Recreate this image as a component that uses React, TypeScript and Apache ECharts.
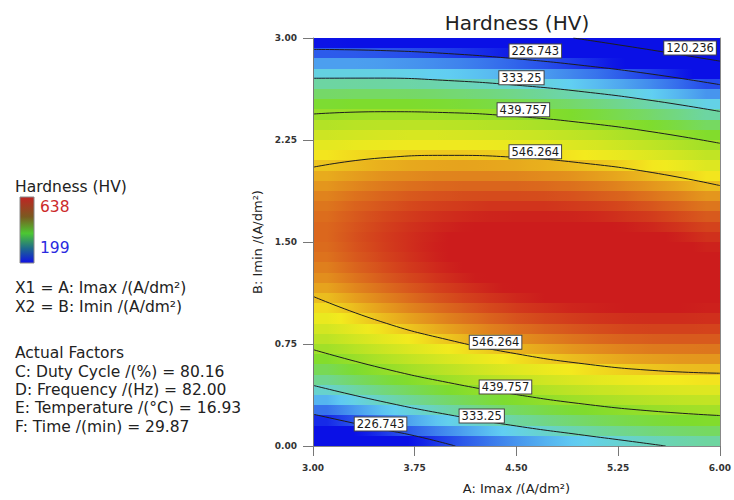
import React, { useEffect, useRef } from 'react';
import * as echarts from 'echarts';

const chartTitle = 'Hardness (HV)';
const xAxisName = 'A: Imax /(A/dm²)';
const yAxisName = 'B: Imin /(A/dm²)';
const xRange = [3, 6];
const yRange = [0, 3];
const xTickStep = 0.75;
const yTickStep = 0.75;

// cell centres of the response grid (A columns, B rows from bottom)
const aCenters = [3.1, 3.3, 3.5, 3.7, 3.9, 4.1, 4.3, 4.5, 4.7, 4.9, 5.1, 5.3, 5.5, 5.7, 5.9];
const bCenters = [
  0.0375, 0.1125, 0.1875, 0.2625, 0.3375, 0.4125, 0.4875, 0.5625, 0.6375, 0.7125,
  0.7875, 0.8625, 0.9375, 1.0125, 1.0875, 1.1625, 1.2375, 1.3125, 1.3875, 1.4625,
  1.5375, 1.6125, 1.6875, 1.7625, 1.8375, 1.9125, 1.9875, 2.0625, 2.1375, 2.2125,
  2.2875, 2.3625, 2.4375, 2.5125, 2.5875, 2.6625, 2.7375, 2.8125, 2.8875, 2.9625,
];
const bHalfRow = 0.0375;

// estimated hardness (HV), one row per B centre (bottom to top), one value per A centre
const hardnessGrid = [
  [126, 151, 176, 198, 220, 240, 258, 275, 291, 305, 318, 329, 339, 347, 354],
  [171, 196, 219, 242, 262, 281, 299, 316, 330, 344, 356, 366, 375, 383, 389],
  [214, 238, 261, 282, 302, 321, 338, 354, 368, 380, 392, 402, 410, 417, 422],
  [255, 278, 300, 321, 340, 358, 374, 389, 403, 415, 425, 434, 442, 448, 453],
  [293, 316, 337, 357, 376, 393, 409, 423, 436, 447, 457, 465, 472, 478, 482],
  [329, 351, 372, 391, 409, 426, 441, 454, 466, 477, 486, 493, 500, 505, 508],
  [363, 385, 405, 423, 440, 456, 470, 483, 494, 504, 513, 520, 525, 529, 532],
  [395, 416, 435, 453, 469, 484, 498, 510, 520, 529, 537, 543, 548, 552, 554],
  [424, 444, 463, 480, 496, 510, 523, 534, 544, 552, 559, 565, 569, 572, 573],
  [451, 470, 488, 505, 520, 533, 545, 556, 565, 573, 579, 584, 588, 589, 590],
  [476, 495, 512, 527, 542, 555, 566, 576, 584, 591, 597, 601, 604, 605, 605],
  [498, 516, 533, 548, 561, 573, 584, 593, 601, 607, 612, 616, 618, 618, 617],
  [519, 536, 552, 566, 579, 590, 600, 609, 616, 621, 625, 628, 629, 629, 628],
  [537, 553, 568, 582, 594, 604, 614, 622, 628, 633, 636, 638, 639, 638, 636],
  [552, 568, 582, 595, 607, 617, 625, 632, 638, 642, 645, 646, 646, 644, 641],
  [566, 581, 594, 606, 617, 626, 634, 641, 645, 649, 651, 652, 651, 648, 645],
  [577, 591, 604, 615, 625, 634, 641, 647, 651, 654, 655, 655, 653, 650, 646],
  [585, 599, 611, 622, 631, 639, 646, 650, 654, 656, 657, 656, 654, 650, 645],
  [592, 605, 616, 626, 635, 642, 648, 652, 655, 656, 656, 654, 651, 647, 641],
  [596, 608, 619, 628, 636, 643, 648, 651, 653, 654, 653, 651, 647, 642, 635],
  [598, 610, 620, 628, 635, 641, 645, 648, 650, 649, 648, 645, 641, 635, 627],
  [598, 608, 618, 626, 632, 637, 641, 643, 644, 643, 640, 637, 632, 625, 617],
  [595, 605, 614, 621, 627, 631, 634, 635, 635, 634, 631, 626, 621, 613, 605],
  [590, 600, 607, 614, 619, 622, 625, 625, 625, 622, 619, 614, 607, 599, 590],
  [583, 592, 599, 605, 609, 612, 613, 613, 612, 609, 604, 599, 591, 583, 573],
  [573, 581, 588, 593, 597, 599, 599, 599, 597, 593, 588, 581, 573, 564, 553],
  [562, 569, 575, 579, 582, 583, 583, 582, 579, 575, 569, 562, 553, 543, 531],
  [548, 554, 559, 563, 565, 566, 565, 563, 559, 554, 548, 540, 530, 520, 507],
  [531, 537, 541, 544, 546, 546, 544, 542, 537, 531, 524, 516, 506, 494, 481],
  [513, 518, 521, 524, 524, 524, 522, 518, 513, 506, 499, 489, 478, 466, 453],
  [492, 496, 499, 501, 501, 499, 496, 492, 486, 479, 471, 460, 449, 436, 422],
  [468, 472, 474, 475, 475, 472, 469, 464, 458, 450, 440, 430, 417, 404, 389],
  [443, 446, 448, 448, 446, 443, 439, 434, 426, 418, 408, 396, 383, 369, 353],
  [415, 418, 418, 418, 416, 412, 407, 401, 393, 384, 373, 361, 347, 332, 315],
  [385, 387, 387, 386, 383, 378, 373, 366, 357, 347, 336, 323, 308, 293, 275],
  [353, 354, 353, 351, 348, 343, 336, 328, 319, 308, 296, 283, 268, 251, 233],
  [318, 318, 317, 314, 310, 304, 297, 289, 279, 267, 255, 240, 224, 207, 189],
  [281, 281, 279, 275, 270, 264, 256, 247, 236, 224, 211, 196, 179, 161, 142],
  [242, 241, 238, 234, 228, 221, 213, 203, 191, 179, 164, 149, 131, 113, 93],
  [201, 199, 195, 190, 184, 176, 167, 156, 144, 131, 116, 99, 81, 62, 41],
];

const legendMax = 638;
const legendMin = 199;
// colour ramp, evenly spaced from legendMin to legendMax
const rampColors = ['#0a10e6', '#62d0f2', '#7edc2c', '#f4ea1e', '#cc1c1c'];

// contour lines: [A, B]
const contour120 = [[4.92, 3.0], [5.25, 2.95], [5.6, 2.895], [6.0, 2.83]];
const contour226Upper = [[3.0, 2.916], [3.5, 2.908], [4.0, 2.885], [4.5, 2.847], [5.0, 2.797], [5.5, 2.734], [6.0, 2.657]];
const contour333Upper = [[3.0, 2.704], [3.5, 2.705], [4.0, 2.687], [4.5, 2.653], [5.0, 2.604], [5.5, 2.54], [6.0, 2.46]];
const contour439Upper = [[3.0, 2.441], [3.5, 2.458], [4.0, 2.451], [4.5, 2.423], [5.0, 2.376], [5.5, 2.31], [6.0, 2.226]];
const contour546Upper = [[3.0, 2.05], [3.5, 2.118], [4.0, 2.137], [4.5, 2.122], [5.0, 2.079], [5.5, 2.011], [6.0, 1.915]];
const contour546Lower = [[3.0, 1.1], [3.5, 0.915], [4.0, 0.78], [4.5, 0.678], [5.0, 0.604], [5.5, 0.556], [6.0, 0.535]];
const contour439Lower = [[3.0, 0.709], [3.5, 0.575], [4.0, 0.466], [4.5, 0.378], [5.0, 0.308], [5.5, 0.257], [6.0, 0.224]];
const contour333Lower = [[3.0, 0.446], [3.5, 0.329], [4.0, 0.23], [4.5, 0.147], [5.0, 0.079], [5.3, 0.04], [5.6, 0.0]];
const contour226Lower = [[3.0, 0.234], [3.5, 0.125], [3.75, 0.075], [4.05, 0.0]];

const contourLines = [
  contour120, contour226Upper, contour333Upper, contour439Upper, contour546Upper,
  contour546Lower, contour439Lower, contour333Lower, contour226Lower,
];

// contour labels: [A, B, text]
const contourLabels: [number, number, string][] = [
  [5.78, 2.927, '120.236'],
  [4.639, 2.905, '226.743'],
  [4.537, 2.707, '333.25'],
  [4.551, 2.472, '439.757'],
  [4.639, 2.164, '546.264'],
  [4.346, 0.763, '546.264'],
  [4.419, 0.433, '439.757'],
  [4.244, 0.22, '333.25'],
  [3.498, 0.161, '226.743'],
];

const legendTitle = 'Hardness (HV)';
const factorLines = [
  { text: 'X1 = A: Imax /(A/dm²)', y: 288 },
  { text: 'X2 = B: Imin /(A/dm²)', y: 307 },
  { text: 'Actual Factors', y: 353 },
  { text: 'C: Duty Cycle /(%) = 80.16', y: 372 },
  { text: 'D: Frequency /(Hz) = 82.00', y: 390 },
  { text: 'E: Temperature /(°C) = 16.93', y: 408 },
  { text: 'F: Time /(min) = 29.87', y: 427 },
];

const FONT = "'DejaVu Sans', Verdana, sans-serif";

function colorFor(v: number): string {
  const r = Math.min(1, Math.max(0, (v - legendMin) / (legendMax - legendMin)));
  return echarts.color.lerp(r, rampColors) as string;
}

export default function App() {
  const ref = useRef<HTMLDivElement>(null);

  useEffect(() => {
    if (!ref.current) return;
    const chart = echarts.init(ref.current, undefined, { renderer: 'svg' });

    const nCols = aCenters.length;
    const rowData = hardnessGrid.map((row, j) => [bCenters[j], ...row]);

    const renderRow = (_params: any, api: any) => {
      const b = api.value(0);
      const vals: number[] = [];
      for (let k = 0; k < nCols; k++) vals.push(api.value(k + 1));
      const yTop = Math.round(api.coord([xRange[0], b + bHalfRow])[1]);
      const yBot = Math.round(api.coord([xRange[0], b - bHalfRow])[1]);
      const h = yBot - yTop;
      const xl = Math.round(api.coord([xRange[0], b])[0]);
      const xr = Math.round(api.coord([xRange[1], b])[0]);
      const xc = aCenters.map((a) => Math.round(api.coord([a, b])[0]));
      const children: any[] = [];
      children.push({
        type: 'rect',
        shape: { x: xl, y: yTop, width: xc[0] - xl + 0.5, height: h },
        style: { fill: colorFor(vals[0]) },
      });
      for (let i = 0; i < nCols - 1; i++) {
        children.push({
          type: 'rect',
          shape: { x: xc[i], y: yTop, width: xc[i + 1] - xc[i] + 0.5, height: h },
          style: {
            fill: new echarts.graphic.LinearGradient(0, 0, 1, 0, [
              { offset: 0, color: colorFor(vals[i]) },
              { offset: 0.5, color: colorFor((vals[i] + vals[i + 1]) / 2) },
              { offset: 1, color: colorFor(vals[i + 1]) },
            ]),
          },
        });
      }
      children.push({
        type: 'rect',
        shape: { x: xc[nCols - 1], y: yTop, width: xr - xc[nCols - 1], height: h },
        style: { fill: colorFor(vals[nCols - 1]) },
      });
      return { type: 'group', children };
    };

    const gridBox = { left: 313, top: 38, width: 410, height: 409 };

    const option: any = {
      animation: false,
      backgroundColor: '#ffffff',
      title: {
        text: chartTitle,
        left: 512,
        top: 8,
        textAlign: 'center',
        textStyle: { fontFamily: FONT, fontSize: 20, fontWeight: 'normal', color: '#222' },
      },
      grid: { ...gridBox, containLabel: false },
      xAxis: [
        {
          type: 'value',
          position: 'bottom',
          min: xRange[0],
          max: xRange[1],
          interval: xTickStep,
          z: 10,
          splitLine: { show: false },
          axisLine: { show: true, lineStyle: { color: '#777', width: 1 } },
          axisTick: { show: true, inside: false, length: 10, lineStyle: { color: '#777' } },
          axisLabel: {
            margin: 17,
            formatter: (v: number) => v.toFixed(2),
            fontFamily: FONT,
            fontSize: 9,
            fontWeight: 'bold',
            color: '#333',
          },
          name: xAxisName,
          nameLocation: 'middle',
          nameGap: 36,
          nameTextStyle: { fontFamily: FONT, fontSize: 13, color: '#222' },
        },
        {
          type: 'value',
          position: 'top',
          min: xRange[0],
          max: xRange[1],
          z: 10,
          splitLine: { show: false },
          axisLine: { show: true, lineStyle: { color: '#888', width: 1 } },
          axisTick: { show: false },
          axisLabel: { show: false },
        },
      ],
      yAxis: [
        {
          type: 'value',
          position: 'left',
          min: yRange[0],
          max: yRange[1],
          interval: yTickStep,
          z: 10,
          splitLine: { show: false },
          axisLine: { show: true, lineStyle: { color: '#777', width: 1 } },
          axisTick: { show: true, inside: false, length: 10, lineStyle: { color: '#777' } },
          axisLabel: {
            margin: 16,
            formatter: (v: number) => v.toFixed(2),
            fontFamily: FONT,
            fontSize: 9,
            fontWeight: 'bold',
            color: '#333',
          },
          name: yAxisName,
          nameLocation: 'middle',
          nameGap: 46,
          nameTextStyle: { fontFamily: FONT, fontSize: 13, color: '#222' },
        },
        {
          type: 'value',
          position: 'right',
          min: yRange[0],
          max: yRange[1],
          z: 10,
          splitLine: { show: false },
          axisLine: { show: true, lineStyle: { color: '#888', width: 1 } },
          axisTick: { show: false },
          axisLabel: { show: false },
        },
      ],
      series: [
        {
          type: 'custom',
          xAxisIndex: 0,
          yAxisIndex: 0,
          data: rowData,
          renderItem: renderRow,
          z: 1,
          silent: true,
          clip: true,
        },
        ...contourLines.map((pts) => ({
          type: 'line',
          xAxisIndex: 0,
          yAxisIndex: 0,
          data: pts,
          smooth: true,
          symbol: 'none',
          clip: true,
          z: 3,
          silent: true,
          lineStyle: { color: '#1e1e1e', width: 1 },
          emphasis: { disabled: true },
        })),
        {
          type: 'scatter',
          xAxisIndex: 0,
          yAxisIndex: 0,
          z: 5,
          symbolSize: 1,
          silent: true,
          itemStyle: { color: 'rgba(0,0,0,0)', opacity: 1 },
          emphasis: { disabled: true },
          data: contourLabels.map(([a, b, t]) => ({ value: [a, b], name: t })),
          label: {
            show: true,
            position: 'inside',
            formatter: '{b}',
            backgroundColor: '#ffffff',
            borderColor: '#444',
            borderWidth: 1,
            padding: [1, 2, 0, 2],
            color: '#1a1a1a',
            opacity: 1,
            fontFamily: FONT,
            fontSize: 11.5,
          },
        },
      ],
      graphic: [
        {
          type: 'text',
          x: 15,
          y: 187,
          style: { text: legendTitle, fill: '#222', font: `15.5px ${FONT}`, verticalAlign: 'middle', align: 'left' },
        },
        {
          type: 'rect',
          shape: { x: 20, y: 197, width: 14, height: 66 },
          style: {
            fill: new echarts.graphic.LinearGradient(0, 0, 0, 1, [
              { offset: 0, color: '#c02424' },
              { offset: 0.3, color: '#7a5a20' },
              { offset: 0.55, color: '#4cc832' },
              { offset: 0.78, color: '#1e6a8c' },
              { offset: 1, color: '#1010e6' },
            ]),
            stroke: '#888',
            lineWidth: 1,
          },
        },
        {
          type: 'text',
          x: 40,
          y: 207,
          style: { text: String(legendMax), fill: '#cc2a2a', font: `15.5px ${FONT}`, verticalAlign: 'middle', align: 'left' },
        },
        {
          type: 'text',
          x: 40,
          y: 248,
          style: { text: String(legendMin), fill: '#2a2ae0', font: `15.5px ${FONT}`, verticalAlign: 'middle', align: 'left' },
        },
        ...factorLines.map((f) => ({
          type: 'text',
          x: 15,
          y: f.y,
          style: { text: f.text, fill: '#222', font: `15.5px ${FONT}`, verticalAlign: 'middle', align: 'left' },
        })),
      ],
    };

    chart.setOption(option);
    return () => chart.dispose();
  }, []);

  return (
    <div
      ref={ref}
      style={{ position: 'fixed', left: 0, top: 0, width: 734, height: 500, background: '#fff' }}
    />
  );
}
